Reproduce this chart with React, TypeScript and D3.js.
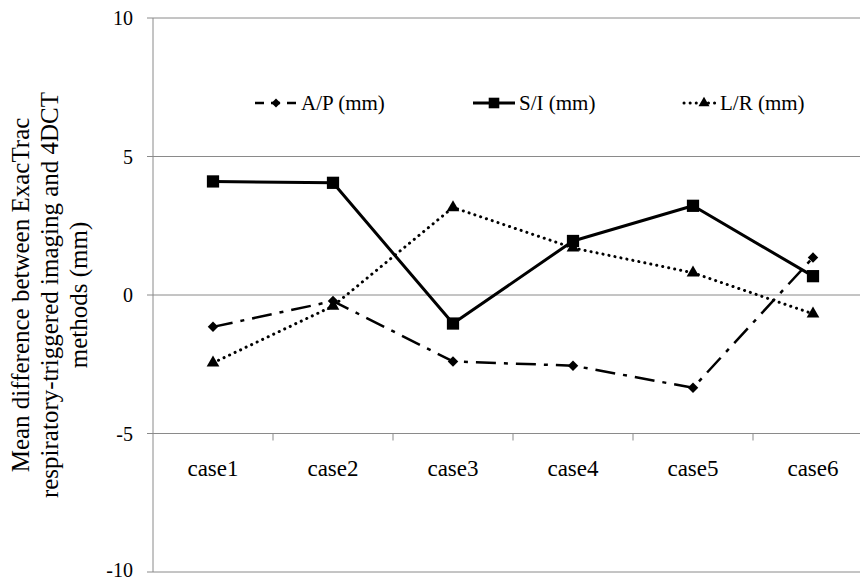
import React, { useEffect, useRef } from 'react';
import * as d3 from 'd3';

const cases = ['case1', 'case2', 'case3', 'case4', 'case5', 'case6'];
const apValues = [-1.15, -0.22, -2.4, -2.55, -3.35, 1.35];
const siValues = [4.1, 4.05, -1.03, 1.95, 3.22, 0.68];
const lrValues = [-2.45, -0.4, 3.16, 1.7, 0.8, -0.68];
const yTicks = [10, 5, 0, -5, -10];
const titleLines = [
  'Mean difference between ExacTrac',
  'respiratory-triggered imaging and 4DCT',
  'methods (mm)',
];

const FONT = '"Liberation Serif", "Times New Roman", serif';

const App = () => {
  const svgRef = useRef(null);

  useEffect(() => {
    const svg = d3.select(svgRef.current);
    svg.selectAll('*').remove();

    const width = 860;
    const height = 580;
    const left = 153;
    const top = 18;
    const bottom = 572;

    svg.attr('width', width).attr('height', height)
      .style('font-family', FONT);

    const x = d3.scaleBand().domain(cases).range([left, left + 720]);
    const y = d3.scaleLinear().domain([-10, 10]).range([bottom, top]);
    const cx = (c) => x(c) + x.bandwidth() / 2;

    // horizontal gridlines (extend a little left of the axis as tick marks)
    svg.append('g')
      .selectAll('line')
      .data(yTicks)
      .enter()
      .append('line')
      .attr('x1', left - 6)
      .attr('x2', width)
      .attr('y1', d => y(d))
      .attr('y2', d => y(d))
      .attr('stroke', '#8a8a8a')
      .attr('stroke-width', 1);

    svg.append('line')
      .attr('x1', left).attr('x2', left)
      .attr('y1', top).attr('y2', bottom)
      .attr('stroke', '#8a8a8a')
      .attr('stroke-width', 1);

    svg.append('g')
      .selectAll('text')
      .data(yTicks)
      .enter()
      .append('text')
      .attr('x', left - 20)
      .attr('y', d => y(d))
      .attr('dy', d => (d === -10 ? '0.25em' : '0.35em'))
      .attr('text-anchor', 'end')
      .style('font-size', '20px')
      .text(d => d);

    // category axis sits on y = -5
    const axisY = y(-5);
    svg.append('g')
      .selectAll('line')
      .data(cases.slice(1))
      .enter()
      .append('line')
      .attr('x1', d => x(d)).attr('x2', d => x(d))
      .attr('y1', axisY).attr('y2', axisY + 7)
      .attr('stroke', '#8a8a8a')
      .attr('stroke-width', 1);

    svg.append('g')
      .selectAll('text')
      .data(cases)
      .enter()
      .append('text')
      .attr('x', d => cx(d))
      .attr('y', axisY + 42)
      .attr('text-anchor', 'middle')
      .style('font-size', '23px')
      .text(d => d);

    // y axis title, three lines, centred on the plot height
    const title = svg.append('text')
      .attr('transform', `translate(0, ${(top + bottom) / 2}) rotate(-90)`)
      .attr('text-anchor', 'middle')
      .style('font-size', '25px');
    titleLines.forEach((t, i) => {
      title.append('tspan')
        .attr('x', 0)
        .attr('y', 29 + i * 29)
        .text(t);
    });

    const series = [
      { name: 'A/P (mm)', values: apValues, dash: '20,8,4,8', legendDash: '9,7', width: 2.5, cap: 'butt', marker: 'diamond', lx: 255, lw: 42 },
      { name: 'S/I (mm)', values: siValues, dash: null, legendDash: null, width: 3, cap: 'butt', marker: 'square', lx: 473, lw: 42 },
      { name: 'L/R (mm)', values: lrValues, dash: '0.1,6', legendDash: '0.1,6', width: 3, cap: 'round', marker: 'triangle', lx: 684, lw: 32 },
    ];

    const symbolFor = (m, k) => {
      if (m === 'square') return d3.symbol().type(d3.symbolSquare).size(150 * k)();
      if (m === 'triangle') return d3.symbol().type(d3.symbolTriangle).size(70 * k)();
      return d3.symbol().type(d3.symbolSquare).size(55 * k)();
    };
    const rot = (m) => (m === 'diamond' ? ' rotate(45)' : '');

    const line = d3.line()
      .x((d, i) => cx(cases[i]))
      .y(d => y(d));

    series.forEach(s => {
      svg.append('path')
        .datum(s.values)
        .attr('d', line)
        .attr('fill', 'none')
        .attr('stroke', '#000')
        .attr('stroke-width', s.width)
        .attr('stroke-linecap', s.cap)
        .attr('stroke-linejoin', 'round')
        .attr('stroke-dasharray', s.dash);

      svg.append('g')
        .selectAll('path')
        .data(s.values)
        .enter()
        .append('path')
        .attr('d', symbolFor(s.marker, 1))
        .attr('transform', (d, i) => `translate(${cx(cases[i])}, ${y(d)})${rot(s.marker)}`)
        .attr('fill', '#000');
    });

    // legend
    const ly = 103;
    series.forEach(s => {
      const g = svg.append('g');
      g.append('line')
        .attr('x1', s.lx).attr('x2', s.lx + s.lw)
        .attr('y1', ly).attr('y2', ly)
        .attr('stroke', '#000')
        .attr('stroke-width', s.width)
        .attr('stroke-linecap', s.cap)
        .attr('stroke-dasharray', s.legendDash);
      g.append('path')
        .attr('d', symbolFor(s.marker, 0.75))
        .attr('transform', `translate(${s.lx + (s.marker === 'triangle' ? 20 : s.lw / 2)}, ${ly})${rot(s.marker)}`)
        .attr('fill', '#000');
      g.append('text')
        .attr('x', s.lx + s.lw + 4)
        .attr('y', ly)
        .attr('dy', '0.35em')
        .style('font-size', '21px')
        .text(s.name);
    });
  }, []);

  return (
    <div style={{ position: 'absolute', left: 0, top: 0 }}>
      <svg ref={svgRef}></svg>
    </div>
  );
};

export default App;
